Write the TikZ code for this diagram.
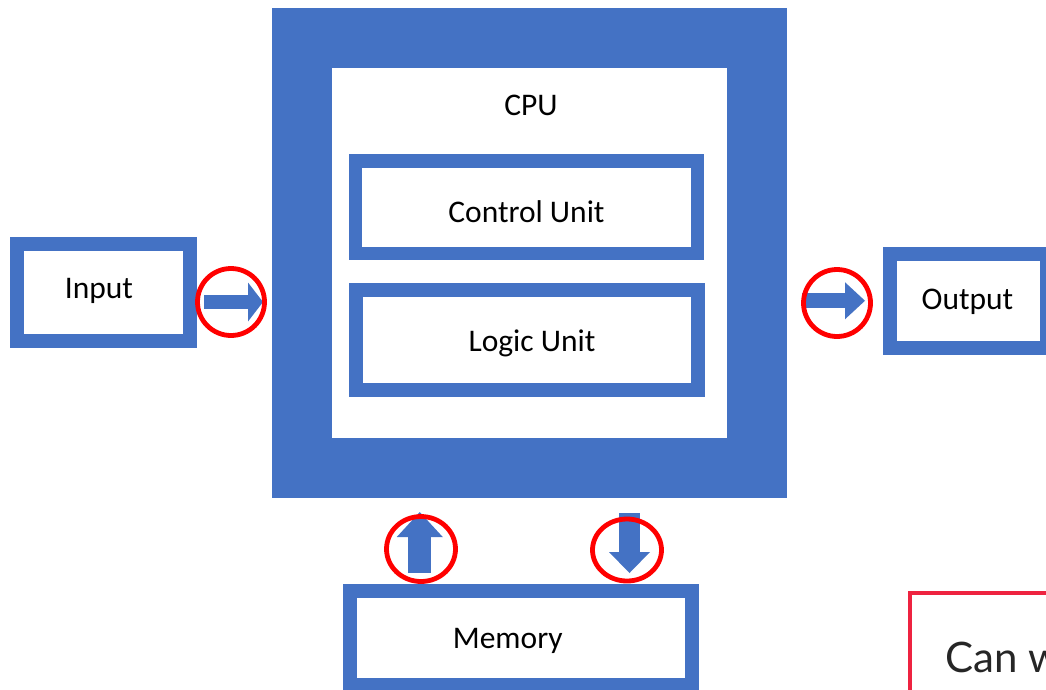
\documentclass[tikz,border=0pt]{standalone}
\usepackage{fontspec}
\newfontfamily\boxfont{Carlito}
\newfontfamily\askfont{Lato}
\usetikzlibrary{positioning,arrows.meta,shapes.geometric}
\definecolor{cpublue}{HTML}{4472C4}
\definecolor{ringred}{HTML}{FF0000}
\definecolor{askred}{HTML}{EE2340}
\tikzset{
  unitbox/.style={draw=cpublue, fill=white, line width=14pt, inner sep=0pt,
    text depth=0pt, font=\boxfont\fontsize{31.5}{36}\selectfont},
  ring/.style={circle, draw=ringred, line width=4.8pt, inner sep=0pt, minimum size=67pt},
  flow/.style={draw=cpublue, line width=#1},
}

\begin{document}
\begin{tikzpicture}[x=1pt, y=-1pt]
  \useasboundingbox (0,0) rectangle (1046,689);

  \node [unitbox, line width=60pt, minimum width=455pt, minimum height=430pt] (cpu) at (529.5,253) {};
  \node [anchor=base, inner sep=0pt, font=\boxfont\fontsize{31.5}{36}\selectfont] (cpulabel) at (531,115) {CPU};
  \node [unitbox, line width=13.5pt, minimum width=342pt, minimum height=92.5pt, text height=29.5pt] (control) at (526.5,207.25) {Control Unit};
  \node [unitbox, minimum width=342pt, minimum height=100pt, text height=23.5pt] (logic) at (527,340) {\hspace*{10pt}Logic Unit};
  \node [unitbox, minimum width=173pt, minimum height=97pt, text height=11pt] (input) at (103.5,292.5) {Input\hspace*{9pt}};
  \node [unitbox, minimum width=157pt, minimum height=94.5pt, text height=17.5pt] (output) at (968.5,300.75) {Output\hspace*{2pt}};
  \node [unitbox, minimum width=341.5pt, minimum height=94.5pt, text height=20.5pt] (memory) at (520.75,637.75) {Memory\hspace*{26pt}};

  \draw [flow=14pt, shorten <=7pt, shorten >=9pt, -{Triangle[width=39pt, length=15pt, line width=0pt, fill=cpublue]}]
    ([yshift=-9.5pt]input.east) -- ([yshift=-9.5pt]input.east -| cpu.west);
  \draw [flow=15pt, shorten <=15pt, shorten >=18pt, -{Triangle[width=37pt, length=20pt, line width=0pt, fill=cpublue]}]
    (cpu.east |- output.west) -- (output.west);
  \draw [flow=23pt, shorten <=10.5pt, shorten >=14pt, -{Triangle[width=46pt, length=25pt, line width=0pt, fill=cpublue]}]
    ([xshift=-101pt]memory.north) -- ([xshift=-101pt]memory.north |- cpu.south);
  \draw [flow=21pt, shorten <=15pt, shorten >=10.5pt, -{Triangle[width=41pt, length=21pt, line width=0pt, fill=cpublue]}]
    ([xshift=108.75pt]memory.north |- cpu.south) -- ([xshift=108.75pt]memory.north);

  \node [ring] (inring) at (231,302) {};
  \node [ring] (outring) at (837,303) {};
  \node [ring, ellipse, minimum width=69pt, minimum height=65pt] (upring) at (421,549) {};
  \node [ring, ellipse, minimum width=69pt, minimum height=62pt] (downring) at (627,550) {};

  \node [draw=askred, line width=4.3pt, anchor=north west, minimum width=300pt, minimum height=200pt] (askbox) at (908,591) {};
  \node [anchor=base west, inner sep=0pt, font=\askfont\fontsize{42}{50}\selectfont, text=black!85] (asktext) at (945,672) {Can w};
\end{tikzpicture}
\end{document}
